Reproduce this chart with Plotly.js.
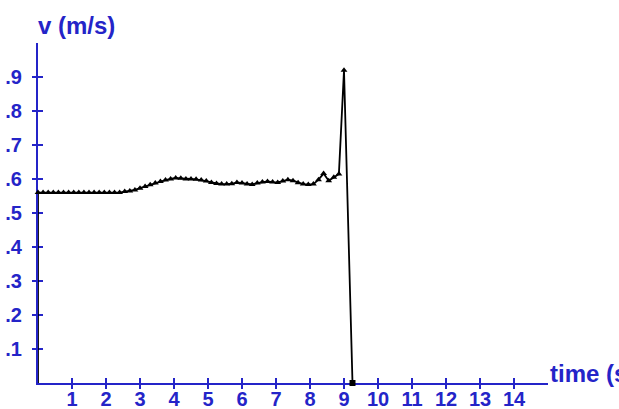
<!DOCTYPE html>
<html><head><meta charset="utf-8">
<script src="https://cdn.plot.ly/plotly-3.0.1.min.js"></script>
<style>html,body{margin:0;padding:0;background:#fff;}#c{width:619px;height:409px;}</style>
</head><body><div id="c"></div>
<script>
const timeS = [0, 0, 0.15, 0.30, 0.45, 0.60, 0.75, 0.90, 1.05, 1.20, 1.35, 1.50, 1.65, 1.80, 1.95, 2.10, 2.25, 2.40,
  2.55, 2.70, 2.85, 3.00, 3.15, 3.30, 3.45, 3.60, 3.75, 3.90, 4.05, 4.20, 4.35, 4.50, 4.65, 4.80, 4.95,
  5.10, 5.25, 5.40, 5.55, 5.70, 5.85, 6.00, 6.15, 6.30, 6.45, 6.60, 6.75, 6.90, 7.05, 7.20, 7.35, 7.50,
  7.65, 7.80, 7.95, 8.10, 8.25, 8.40, 8.55, 8.70, 8.85, 9.00, 9.25];
const velocity = [0, 0.56, 0.56, 0.56, 0.56, 0.56, 0.56, 0.56, 0.56, 0.56, 0.56, 0.56, 0.56, 0.56, 0.56, 0.56, 0.56, 0.56,
  0.563, 0.565, 0.568, 0.573, 0.578, 0.583, 0.588, 0.593, 0.597, 0.600, 0.603, 0.602, 0.600, 0.600, 0.599, 0.597, 0.594,
  0.590, 0.587, 0.585, 0.585, 0.586, 0.590, 0.588, 0.585, 0.584, 0.588, 0.591, 0.593, 0.591, 0.590, 0.594, 0.598, 0.595,
  0.589, 0.585, 0.584, 0.585, 0.598, 0.616, 0.595, 0.605, 0.615, 0.920, 0.000];
const markerSymbols = velocity.map((v, i) => i === 0 ? 'line-ew' : (i === velocity.length - 1 ? 'square' : 'triangle-up'));
const xTickVals = [1,2,3,4,5,6,7,8,9,10,11,12,13,14];
const xTickText = ['1','2','3','4','5','6','7','8','9','10','11','12','13','14'];
const yTickVals = [0.1,0.2,0.3,0.4,0.5,0.6,0.7,0.8,0.9];
const yTickText = ['.1','.2','.3','.4','.5','.6','.7','.8','.9'];

const blue = '#2424c8';
const tickFont = {family: 'Liberation Sans, Arial, sans-serif', size: 20, color: blue, weight: 'bold'};
const titleFont = {family: 'Liberation Sans, Arial, sans-serif', size: 24, color: blue, weight: 'bold'};

const trace = {
  x: timeS, y: velocity, type: 'scatter', mode: 'lines+markers',
  line: {color: '#000', width: 1.8},
  marker: {color: '#000', size: 6, symbol: markerSymbols, line: {color: '#000', width: 0}},
  cliponaxis: false, hoverinfo: 'skip'
};
const ghost = {x: [0], y: [0], xaxis: 'x2', yaxis: 'y2', mode: 'markers', marker: {opacity: 0}, hoverinfo: 'skip', showlegend: false};

const axBase = {showgrid: false, zeroline: false, showline: true, linecolor: blue, linewidth: 2, layer: 'below traces', fixedrange: true};
const layout = {
  width: 619, height: 409, margin: {l: 38, r: 71, t: 43, b: 26},
  paper_bgcolor: '#fff', plot_bgcolor: '#fff', showlegend: false,
  xaxis: Object.assign({}, axBase, {range: [0, 15], tickmode: 'array', tickvals: xTickVals, ticktext: xTickText,
    ticks: 'inside', ticklen: 5, tickwidth: 1.5, tickcolor: blue, tickfont: tickFont, ticklabelstandoff: -3}),
  yaxis: Object.assign({}, axBase, {range: [0, 1], tickmode: 'array', tickvals: yTickVals, ticktext: yTickText,
    ticks: 'inside', ticklen: 5, tickwidth: 1.5, tickcolor: blue, tickfont: tickFont, ticklabelstandoff: 10}),
  xaxis2: Object.assign({}, axBase, {overlaying: 'x', range: [0, 15], tickmode: 'array', tickvals: xTickVals,
    ticks: 'outside', ticklen: 5, tickwidth: 1.5, tickcolor: blue, showticklabels: false, showline: false}),
  yaxis2: Object.assign({}, axBase, {overlaying: 'y', range: [0, 1], tickmode: 'array', tickvals: yTickVals,
    ticks: 'outside', ticklen: 5, tickwidth: 1.5, tickcolor: blue, showticklabels: false, showline: false}),
  annotations: [
    {text: 'v (m/s)', xref: 'paper', yref: 'paper', x: 0, y: 1, xanchor: 'left', yanchor: 'bottom', yshift: 2, xshift: -2,
     showarrow: false, font: titleFont},
    {text: 'time (s)', xref: 'paper', yref: 'paper', x: 1, y: 0, xanchor: 'left', yanchor: 'bottom', xshift: 0, yshift: -6,
     showarrow: false, font: titleFont}
  ]
};
Plotly.newPlot('c', [ghost, trace], layout, {staticPlot: true});
</script></body></html>
